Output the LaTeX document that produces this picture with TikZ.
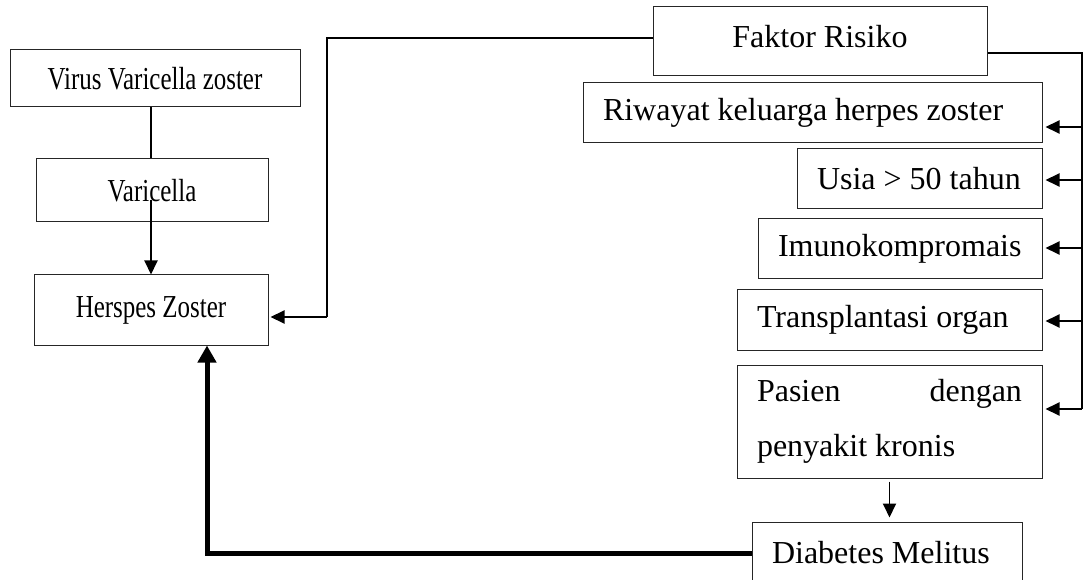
\documentclass[tikz,border=0pt]{standalone}
\usepackage{fontspec}
\setmainfont{Liberation Serif}
\usetikzlibrary{arrows.meta}
\newcommand{\narrowtxt}[1]{\scalebox{0.78}[1]{#1}}
\newcommand{\lefttxt}[2]{\makebox[#1][l]{#2}}
\begin{document}
\begin{tikzpicture}[x=1pt,y=-1pt,
  box/.style={draw=black!85, line width=1pt, inner sep=0pt, font=\fontsize{32}{55}\selectfont},
  thinline/.style={line width=1.1pt},
  busline/.style={line width=1.3pt},
  arr/.style={line width=1.9pt, -{Triangle[length=14pt,width=13pt]}},
  bigarr/.style={line width=5pt, -{Triangle[length=17pt,width=18pt]}}]
\useasboundingbox (0,0) rectangle (1085,580);
\clip (0,0) rectangle (1085,580);
% left column
\node[box, minimum width=290pt, minimum height=57pt] (virus) at (155,78.5) {\narrowtxt{Virus Varicella zoster}};
\node[box, minimum width=232pt, minimum height=63pt] (varicella) at (152,190.5) {\narrowtxt{Varicella}};
\node[box, minimum width=234pt, minimum height=70pt] (herpes) at (151,310) {\narrowtxt{Herspes Zoster}};
% right column
\node[box, minimum width=334pt, minimum height=69pt, text depth=10pt] (faktor) at (820,41.5) {Faktor Risiko};
\node[box, minimum width=459pt, minimum height=60pt] (riwayat) at (812.5,113) {\lefttxt{419pt}{Riwayat keluarga herpes zoster}};
\node[box, minimum width=245pt, minimum height=60pt] (usia) at (919.5,179) {\lefttxt{205pt}{Usia > 50 tahun}};
\node[box, minimum width=284pt, minimum height=60pt] (imuno) at (900,249) {\lefttxt{244pt}{Imunokompromais}};
\node[box, minimum width=305pt, minimum height=60pt] (transp) at (889.5,320) {\lefttxt{265pt}{Transplantasi organ}};
\node[box, minimum width=305pt, minimum height=113pt, align=left] (pasien) at (889.5,421.5) {\makebox[265pt][l]{Pasien\hfill dengan}\\\makebox[265pt][l]{penyakit kronis}};
\node[box, minimum width=270pt, minimum height=62pt] (diabetes) at (887,553) {\lefttxt{230pt}{Diabetes Melitus}};
% left connectors
\draw[thinline] (virus.south -| herpes.north) -- (varicella.north -| herpes.north);
\draw[arr] ([yshift=-9.5pt]varicella.center -| herpes.north) -- (herpes.north);
% faktor to herpes
\coordinate (fa) at (327,38);
\coordinate (fb) at (327,317);
\draw[thinline] (faktor.west |- fa) -- (fa) -- (fb);
\draw[arr] (fb) -- ([xshift=2pt]herpes.east |- fb);
% right bus
\coordinate (ba) at (1082,53);
\coordinate (bb) at (1082,409);
\draw[busline] (faktor.east |- ba) -- (ba) -- (bb);
\coordinate (b1) at (1082,127);
\coordinate (b2) at (1082,180);
\coordinate (b3) at (1082,248);
\coordinate (b4) at (1082,321);
\draw[arr] (b1) -- ([xshift=3pt]riwayat.east |- b1);
\draw[arr] (b2) -- ([xshift=3pt]usia.east |- b2);
\draw[arr] (b3) -- ([xshift=3pt]imuno.east |- b3);
\draw[arr] (b4) -- ([xshift=3pt]transp.east |- b4);
\draw[arr] (bb) -- ([xshift=3pt]pasien.east |- bb);
% pasien to diabetes
\draw[arr] ([yshift=-3pt]pasien.south) -- ([yshift=4pt]pasien.south |- diabetes.north);
% diabetes to herpes (thick)
\coordinate (dk) at (207,553);
\draw[bigarr] (diabetes.west) -- (dk) -- (dk |- herpes.south);
\end{tikzpicture}
\end{document}
